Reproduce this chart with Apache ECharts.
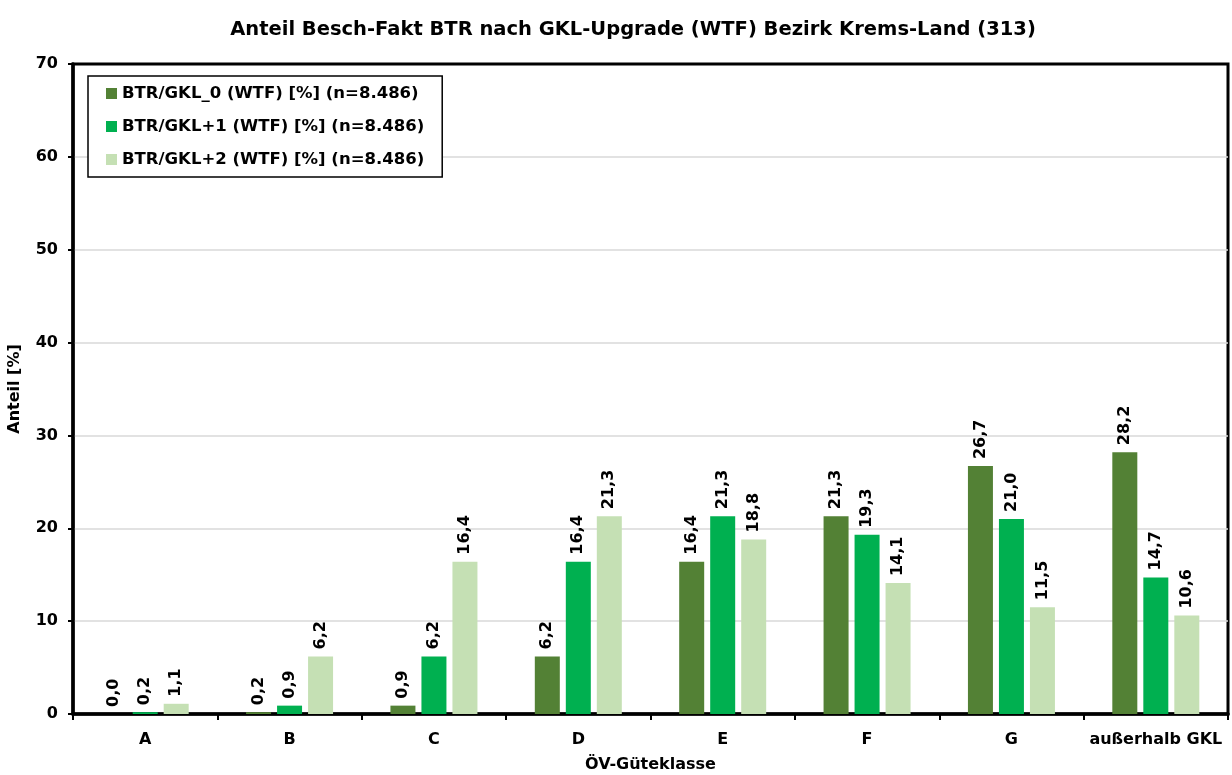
<!DOCTYPE html>
<html><head><meta charset="utf-8">
<script src="https://cdn.jsdelivr.net/npm/echarts@6/dist/echarts.min.js"></script>
<style>html,body{margin:0;padding:0;background:#fff}#c{width:1232px;height:775px}</style>
</head><body><div id="c"></div>
<script>
const categories = ['A','B','C','D','E','F','G','außerhalb GKL'];
const seriesNames = ['BTR/GKL_0 (WTF) [%] (n=8.486)','BTR/GKL+1 (WTF) [%] (n=8.486)','BTR/GKL+2 (WTF) [%] (n=8.486)'];
const gkl0 = [0.0, 0.2, 0.9, 6.2, 16.4, 21.3, 26.7, 28.2];
const gkl1 = [0.2, 0.9, 6.2, 16.4, 21.3, 19.3, 21.0, 14.7];
const gkl2 = [1.1, 6.2, 16.4, 21.3, 18.8, 14.1, 11.5, 10.6];
const colors = ['#538135','#00B050','#C5E0B4'];
const FONT = 'DejaVu Sans';
const chart = echarts.init(document.getElementById('c'));
const mk = (name, data, color) => ({
  name, type:'bar', data, barWidth:25, barGap:'24%',
  itemStyle:{color},
  label:{show:true, position:'top', rotate:90, align:'left', verticalAlign:'middle', distance:7,
    fontFamily:FONT, fontWeight:'bold', fontSize:16, color:'#000',
    formatter:p=>p.value.toFixed(1).replace('.',',')}
});
chart.setOption({
  animation:false,
  textStyle:{fontFamily:FONT},
  title:{text:'Anteil Besch-Fakt BTR nach GKL-Upgrade (WTF) Bezirk Krems-Land (313)', left:628, textAlign:'center', top:15,
    textStyle:{fontFamily:FONT, fontWeight:'bold', fontSize:19.5, color:'#000'}},
  legend:{orient:'vertical', left:88, top:76, itemWidth:11, itemHeight:11, itemGap:16, icon:'rect',
    padding:[9,18,9,18], borderColor:'#000', borderWidth:1.5, backgroundColor:'#fff',
    textStyle:{fontFamily:FONT, fontWeight:'bold', fontSize:16.5, color:'#000'},
    data:seriesNames},
  grid:{left:73, right:4, top:64, bottom:61, show:true, borderColor:'#000', borderWidth:3, containLabel:false, outerBoundsMode:'none'},
  xAxis:{type:'category', data:categories, boundaryGap:true,
    name:'ÖV-Güteklasse', nameLocation:'middle', nameGap:43,
    nameTextStyle:{fontFamily:FONT, fontWeight:'bold', fontSize:16, color:'#000'},
    axisLine:{lineStyle:{color:'#000', width:3.5}},
    axisTick:{show:true, length:6, lineStyle:{color:'#000', width:2}},
    axisLabel:{interval:0, margin:18, fontFamily:FONT, fontWeight:'bold', fontSize:16, color:'#000'}},
  yAxis:{type:'value', min:0, max:70, interval:10,
    name:'Anteil [%]', nameLocation:'middle', nameGap:50, nameRotate:90,
    nameTextStyle:{fontFamily:FONT, fontWeight:'bold', fontSize:16, color:'#000'},
    axisLine:{show:true, lineStyle:{color:'#000', width:3.5}},
    axisTick:{show:true, length:5, lineStyle:{color:'#000', width:2}},
    splitLine:{lineStyle:{color:['#d9d9d9','#d9d9d9','#d9d9d9','#d9d9d9','#d9d9d9','#d9d9d9','#d9d9d9','#000'], width:1.5}},
    axisLabel:{margin:15, fontFamily:FONT, fontWeight:'bold', fontSize:16, color:'#000'}},
  series:[mk(seriesNames[0],gkl0,colors[0]), mk(seriesNames[1],gkl1,colors[1]), mk(seriesNames[2],gkl2,colors[2])]
});
</script></body></html>
